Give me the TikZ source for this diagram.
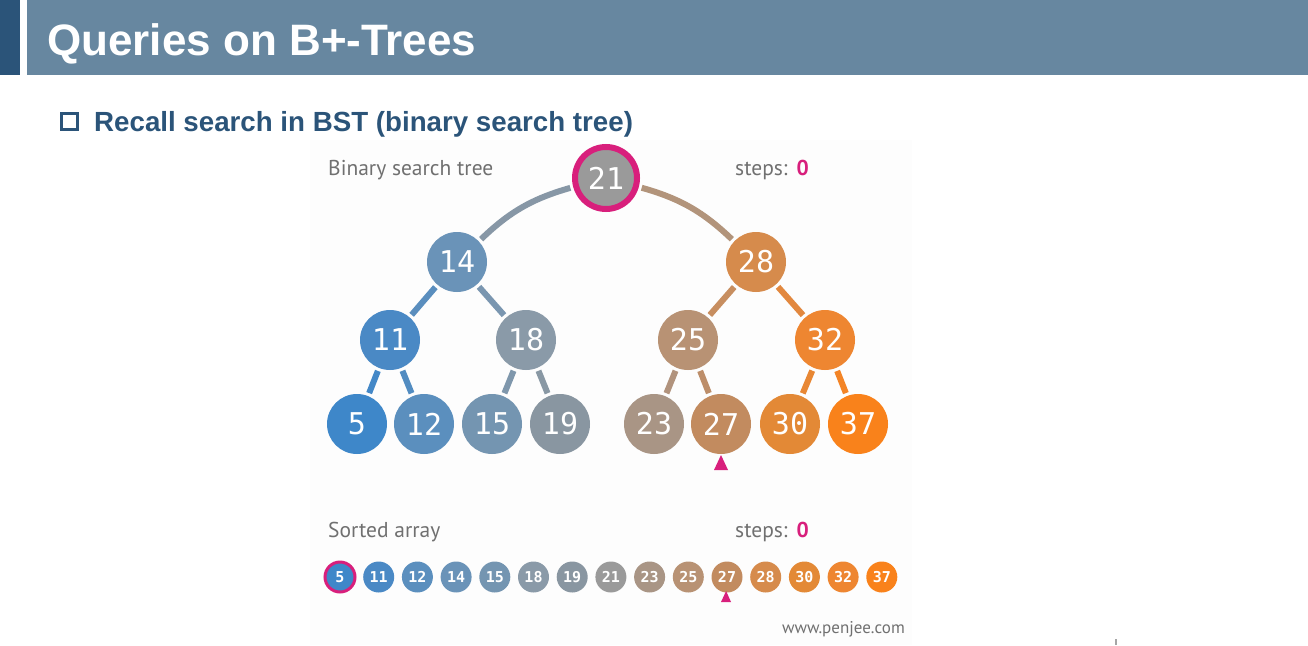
\documentclass[tikz,border=0pt]{standalone}
\usepackage{fontspec}
\setmainfont{Liberation Sans}
\newfontfamily\ptsans{PT Sans}
\newfontfamily\nummono{DejaVu Sans Mono}
\usetikzlibrary{shapes.geometric}

\definecolor{barblue}{HTML}{6787A0}
\definecolor{darkblue}{HTML}{2B5479}
\definecolor{labelgray}{HTML}{707070}
\definecolor{hot}{HTML}{D81F7C}
\definecolor{panel}{HTML}{FDFDFD}
% node colours, blue to orange
\definecolor{c5}{HTML}{3E87C9}
\definecolor{c11}{HTML}{4A89C5}
\definecolor{c12}{HTML}{5B8FBE}
\definecolor{c14}{HTML}{6A93B8}
\definecolor{c15}{HTML}{7495B1}
\definecolor{c18}{HTML}{8A9AA8}
\definecolor{c19}{HTML}{8996A1}
\definecolor{c21}{HTML}{9A9A9A}
\definecolor{c23}{HTML}{A99585}
\definecolor{c25}{HTML}{B89274}
\definecolor{c27}{HTML}{C28B5F}
\definecolor{c28}{HTML}{D68B4C}
\definecolor{c30}{HTML}{E38936}
\definecolor{c32}{HTML}{EE8631}
\definecolor{c37}{HTML}{F9821B}

\begin{document}
\begin{tikzpicture}[x=1pt,y=1pt,
  bst/.style={circle,minimum size=60pt,inner sep=0pt,text=white,
    font=\nummono\fontsize{30}{30}\selectfont},
  arr/.style={circle,minimum size=31pt,inner sep=0pt,text=white,
    font=\nummono\bfseries\fontsize{15}{15}\selectfont},
  edge/.style={line width=6pt,shorten <=3pt,shorten >=3pt},
  lbl/.style={anchor=base west,inner sep=0pt,text=labelgray,
    font=\ptsans\fontsize{21.5}{21.5}\selectfont}]
  \useasboundingbox (0,0) rectangle (1308,-645);

  % header
  \fill[darkblue] (0,0) rectangle (20,-75);
  \fill[barblue] (27,0) rectangle (1308,-75);
  \node[anchor=base west,inner sep=0pt,text=white,
    font=\bfseries\fontsize{44}{44}\selectfont] (title) at (47,-55) {Queries on B+-Trees};
  \draw[darkblue,line width=2.6pt] (61.5,-113.5) rectangle (77.5,-129.5);
  \node[anchor=base west,inner sep=0pt,text=darkblue,
    font=\bfseries\fontsize{27.7}{27.7}\selectfont] (sub) at (94,-131)
    {Recall search in BST (binary search tree)};

  \fill[panel] (310,-140) rectangle (912,-645);

  % tree
  \node[bst,fill=c21,draw=hot,line width=6pt,minimum size=62pt] (n21) at (606,-178) {21};
  \foreach \v/\x/\y in {14/457/262, 28/756/262, 11/390/340, 18/526/340,
                        25/688/340, 32/825/340, 5/357/424, 12/424/424,
                        15/492/424, 19/560/424, 23/654/424, 27/721/424,
                        30/790/424, 37/858/424}
    \node[bst,fill=c\v] (n\v) at (\x,-\y) {\v};

  \draw[edge,draw=c21!60!c14] (n21) to[bend right=14] (n14);
  \draw[edge,draw=c21!60!c28] (n21) to[bend left=14] (n28);
  \foreach \p/\c in {14/11, 14/18, 28/25, 28/32, 11/5, 11/12,
                     18/15, 18/19, 25/23, 25/27, 32/30, 32/37}
    \draw[edge,draw=c\p!50!c\c] (n\p) -- (n\c);
  \fill[hot] (721,-455) -- (728,-470) -- (714,-470) -- cycle;

  \node[lbl] (tlabel) at (328,-175) {Binary search tree};
  \node[lbl] (tsteps) at (735,-175) {steps:\hspace{9pt}\textcolor{hot}{\bfseries 0}};

  % sorted array
  \node[lbl] (alabel) at (328,-537) {Sorted array};
  \node[lbl] (asteps) at (735,-537) {steps:\hspace{9pt}\textcolor{hot}{\bfseries 0}};
  \foreach \v [count=\i from 0] in {5,11,12,14,15,18,19,21,23,25,27,28,30,32,37}
    \node[arr,fill=c\v] (a\v) at ({340+38.7*\i},-577) {\v};
  \draw[hot,line width=3pt] (a5.center) circle (15pt);
  \fill[hot] (726.1,-591) -- (731,-602) -- (721,-602) -- cycle;

  \node[anchor=base east,inner sep=0pt,text=labelgray,
    font=\ptsans\fontsize{17}{17}\selectfont] (site) at (905,-633) {www.penjee.com};
  \draw[gray!70,line width=1.2pt] (1116,-639) -- (1116,-645);
\end{tikzpicture}
\end{document}
